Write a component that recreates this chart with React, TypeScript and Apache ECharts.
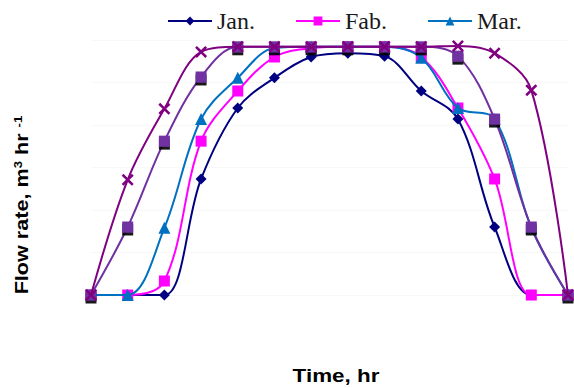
import React, { useEffect, useRef } from "react";
import * as echarts from "echarts";

// Hourly sampling points across the day
const hours = ["6", "7", "8", "9", "10", "11", "12", "13", "14", "15", "16", "17", "18", "19"];

// Flow rate (m³/hr) per month
const jan = [0, 0, 0, 2.73, 4.4, 5.11, 5.6, 5.69, 5.62, 4.8, 4.14, 1.6, 0, 0];
const fab = [0, 0, 0.33, 3.62, 4.8, 5.6, 5.81, 5.84, 5.84, 5.6, 4.4, 2.73, 0, 0];
const mar = [0, 0, 1.58, 4.14, 5.11, 5.81, 5.84, 5.84, 5.84, 5.58, 4.4, 4.14, 1.58, 0];
const apr = [0, 1.6, 3.62, 5.13, 5.84, 5.84, 5.84, 5.84, 5.84, 5.84, 5.62, 4.14, 1.6, 0];
const may = [0, 2.71, 4.38, 5.72, 5.84, 5.84, 5.84, 5.84, 5.84, 5.84, 5.86, 5.69, 4.82, 0];

const legendNames = ["Jan.", "Fab.", "Mar."];

// Asterisk-like cross marker
const starSymbol =
  "path://M0,1.5L1.5,0L5,3.5L8.5,0L10,1.5L6.5,5L10,8.5L8.5,10L5,6.5L1.5,10L0,8.5L3.5,5Z";

export default function App() {
  const ref = useRef<HTMLDivElement>(null);

  useEffect(() => {
    document.body.style.margin = "0";
    if (!ref.current) return;
    const chart = echarts.init(ref.current, undefined, { renderer: "svg" });

    const mk = (
      name: string,
      data: number[],
      color: string,
      symbol: string,
      size: number,
      extra: any = {}
    ) => ({
      name,
      type: "line",
      data,
      smooth: 0.35,
      clip: false,
      symbol,
      symbolSize: size,
      showAllSymbol: true,
      lineStyle: { color, width: 2 },
      itemStyle: { color, ...(extra.itemStyle || {}) },
      z: extra.z ?? 2,
    });

    chart.setOption({
      animation: false,
      backgroundColor: "#ffffff",
      legend: {
        data: legendNames,
        top: 4,
        left: 162,
        itemWidth: 44,
        itemHeight: 11,
        itemGap: 40,
        textStyle: {
          fontFamily: "Liberation Serif",
          fontSize: 24,
          color: "#1a1a1a",
        },
      },
      grid: { left: 91, right: 6, top: 40, bottom: 93 },
      xAxis: {
        type: "category",
        data: hours,
        boundaryGap: false,
        axisLine: { show: false },
        axisTick: { show: false },
        axisLabel: { show: false },
      },
      yAxis: {
        type: "value",
        min: 0,
        max: 6,
        interval: 1,
        axisLine: { show: false },
        axisTick: { show: false },
        axisLabel: { show: false },
        splitLine: { show: true, lineStyle: { color: "#f8f8f8", width: 1 } },
      },
      series: [
        mk("Jan.", jan, "#000080", "diamond", 11, { z: 3 }),
        mk("Fab.", fab, "#ff00ff", "rect", 11, { z: 3 }),
        mk("Mar.", mar, "#0070c0", "triangle", 12, { z: 4 }),
        mk("Apr.", apr, "#7030a0", "rect", 11, {
          z: 5,
          itemStyle: { shadowColor: "rgba(0,0,0,0.9)", shadowOffsetY: 3, shadowBlur: 1 },
        }),
        mk("May", may, "#800080", starSymbol, 12, { z: 6 }),
      ],
      graphic: [
        {
          type: "text",
          x: 22,
          y: 205,
          rotation: Math.PI / 2,
          scaleX: 1.2,
          style: {
            text: "Flow rate, m{sup|3} hr {sup|-1}",
            fontFamily: "Liberation Sans",
            fontWeight: "bold",
            fontSize: 18,
            fill: "#000",
            align: "center",
            verticalAlign: "middle",
            rich: {
              sup: {
                fontFamily: "Liberation Sans",
                fontSize: 11,
                fontWeight: "bold",
                fill: "#000",
                padding: [0, 0, 8, 0],
              },
            },
          },
        },
        {
          type: "text",
          x: 336,
          y: 375,
          scaleX: 1.18,
          style: {
            text: "Time, hr",
            fontFamily: "Liberation Sans",
            fontWeight: "bold",
            fontSize: 19,
            fill: "#000",
            align: "center",
            verticalAlign: "middle",
          },
        },
      ],
    });

    return () => chart.dispose();
  }, []);

  return <div ref={ref} style={{ width: 574, height: 388 }} />;
}
